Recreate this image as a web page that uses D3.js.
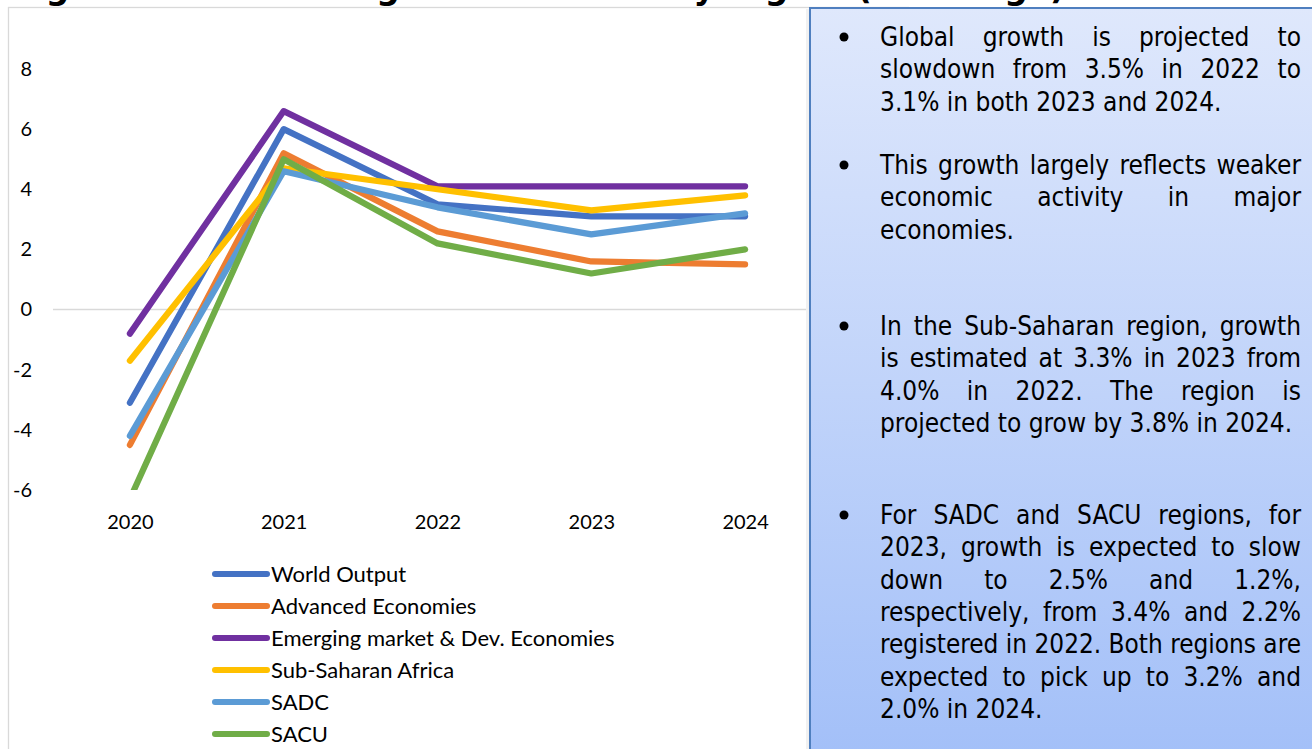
<!DOCTYPE html>
<html>
<head>
<meta charset="utf-8">
<script src="https://cdn.jsdelivr.net/npm/d3@7"></script>
<style>
  html, body { margin: 0; padding: 0; background: #fff; overflow: hidden; }
  svg { display: block; }
</style>
</head>
<body>
<svg id="chart" width="1312" height="749"></svg>
<script>
// ---- Data: real GDP growth (% change) ----
const years = ["2020", "2021", "2022", "2023", "2024"];
const seriesNames = [
  "World Output",
  "Advanced Economies",
  "Emerging market & Dev. Economies",
  "Sub-Saharan Africa",
  "SADC",
  "SACU"
];
const worldOutput       = [-3.1, 6.0, 3.5, 3.1, 3.1];
const advancedEconomies = [-4.5, 5.2, 2.6, 1.6, 1.5];
const emergingEconomies = [-0.8, 6.6, 4.1, 4.1, 4.1];
const subSaharanAfrica  = [-1.7, 4.7, 4.0, 3.3, 3.8];
const sadcGrowth        = [-4.2, 4.6, 3.4, 2.5, 3.2];
const sacuGrowth        = [-6.3, 5.0, 2.2, 1.2, 2.0];
const yTicks = [-6, -4, -2, 0, 2, 4, 6, 8];

const seriesValues = [worldOutput, advancedEconomies, emergingEconomies,
                      subSaharanAfrica, sadcGrowth, sacuGrowth];
const seriesColors = ["#4472C4", "#ED7D31", "#7030A0", "#FFC000", "#5B9BD5", "#70AD47"];

const titleText = "Figure 1: Economic growth outlook by region (% change)";

// Commentary paragraphs, one entry per printed line
const notes = [
  ["Global growth is projected to",
   "slowdown from 3.5% in 2022 to",
   "3.1% in both 2023 and 2024."],
  ["This growth largely reflects weaker",
   "economic activity in major",
   "economies."],
  ["In the Sub-Saharan region, growth",
   "is estimated at 3.3% in 2023 from",
   "4.0% in 2022. The region is",
   "projected to grow by 3.8% in 2024."],
  ["For SADC and SACU regions, for",
   "2023, growth is expected to slow",
   "down to 2.5% and 1.2%,",
   "respectively, from 3.4% and 2.2%",
   "registered in 2022. Both regions are",
   "expected to pick up to 3.2% and",
   "2.0% in 2024."]
];
const noteFirstBaselines = [46, 174, 335, 524];

// ---- Layout ----
const svg = d3.select("#chart");
const plot = { left: 53, right: 822, top: 69, bottom: 490 };
const chartFont = "Lato, 'Liberation Sans', sans-serif";

const defs = svg.append("defs");
defs.append("clipPath").attr("id", "plot-clip")
  .append("rect")
  .attr("x", plot.left).attr("y", 0)
  .attr("width", plot.right - plot.left).attr("height", plot.bottom);

const grad = defs.append("linearGradient").attr("id", "note-fill")
  .attr("x1", 0).attr("y1", 0).attr("x2", 0).attr("y2", 1);
grad.append("stop").attr("offset", "0%").attr("stop-color", "#dfe8fc");
grad.append("stop").attr("offset", "100%").attr("stop-color", "#a2bff8");

// Heading (runs off the top edge)
svg.append("text")
  .attr("x", 12).attr("y", -1)
  .attr("font-family", "'DejaVu Sans', sans-serif")
  .attr("font-weight", "bold")
  .attr("font-size", 34)
  .attr("textLength", 1053)
  .attr("lengthAdjust", "spacingAndGlyphs")
  .attr("fill", "#000")
  .text(titleText);

// Chart frame
svg.append("rect")
  .attr("x", 8.5).attr("y", 7.5)
  .attr("width", 900).attr("height", 800)
  .attr("fill", "#fff")
  .attr("stroke", "#d9d9d9").attr("stroke-width", 1.3);

const x = d3.scalePoint().domain(years).range([plot.left, plot.right]).padding(0.5);
const y = d3.scaleLinear().domain([-6, 8]).range([plot.bottom, plot.top]);

// Y axis labels
const yAxisG = svg.append("g")
  .attr("transform", `translate(${plot.left},0)`)
  .call(d3.axisLeft(y).tickValues(yTicks).tickSize(0).tickPadding(21)
        .tickFormat(d => String(d)));
yAxisG.select(".domain").remove();
yAxisG.selectAll("text")
  .attr("font-family", chartFont).attr("font-size", 20).attr("fill", "#000");

// Category labels
const xAxisG = svg.append("g")
  .attr("transform", `translate(0,${plot.bottom})`)
  .call(d3.axisBottom(x).tickSize(0).tickPadding(25));
xAxisG.select(".domain").remove();
xAxisG.selectAll("text")
  .attr("font-family", chartFont).attr("font-size", 20).attr("fill", "#000");

// Horizontal axis line at zero
svg.append("line")
  .attr("x1", plot.left).attr("x2", plot.right)
  .attr("y1", y(0)).attr("y2", y(0))
  .attr("stroke", "#d9d9d9").attr("stroke-width", 1.6);

// Series lines
const line = d3.line().x((d, i) => x(years[i])).y(d => y(d));
svg.append("g").attr("clip-path", "url(#plot-clip)")
  .selectAll("path")
  .data(seriesValues)
  .join("path")
  .attr("d", d => line(d))
  .attr("fill", "none")
  .attr("stroke", (d, i) => seriesColors[i])
  .attr("stroke-width", 6.2)
  .attr("stroke-linecap", "round")
  .attr("stroke-linejoin", "round");

// Legend
const legend = svg.append("g").selectAll("g")
  .data(seriesNames)
  .join("g")
  .attr("transform", (d, i) => `translate(0,${574 + i * 32})`);
legend.append("line")
  .attr("x1", 215).attr("x2", 267)
  .attr("stroke", (d, i) => seriesColors[i])
  .attr("stroke-width", 6)
  .attr("stroke-linecap", "round");
legend.append("text")
  .attr("x", 271).attr("dy", "0.35em")
  .attr("font-family", chartFont).attr("font-size", 22).attr("fill", "#000")
  .text(d => d);

// Commentary box
svg.append("rect")
  .attr("x", 806).attr("y", 9)
  .attr("width", 4).attr("height", 760)
  .attr("fill", "#f1f1f1");
svg.append("rect")
  .attr("x", 810).attr("y", 8)
  .attr("width", 520).attr("height", 760)
  .attr("fill", "url(#note-fill)")
  .attr("stroke", "#4f7fbf").attr("stroke-width", 2);

const textLeft = 880, textRight = 1301, lineGap = 32.3;
const noteFont = "'DejaVu Sans Condensed', 'DejaVu Sans', sans-serif";
const notesG = svg.append("g");
notes.forEach((para, p) => {
  const base = noteFirstBaselines[p];
  notesG.append("circle")
    .attr("cx", 844).attr("cy", base - 9).attr("r", 4.5)
    .attr("fill", "#000");
  para.forEach((txt, li) => {
    const t = notesG.append("text")
      .attr("x", textLeft).attr("y", base + li * lineGap)
      .attr("font-family", noteFont)
      .attr("font-size", 26)
      .attr("fill", "#000")
      .text(txt);
    const avail = textRight - textLeft;
    const w = t.node().getComputedTextLength();
    const isLast = li === para.length - 1;
    if (w > avail) {
      t.attr("textLength", avail).attr("lengthAdjust", "spacingAndGlyphs");
    } else if (!isLast) {
      const gaps = (txt.match(/ /g) || []).length;
      if (gaps > 0) t.style("word-spacing", ((avail - w) / gaps) + "px");
    }
  });
});
</script>
</body>
</html>
